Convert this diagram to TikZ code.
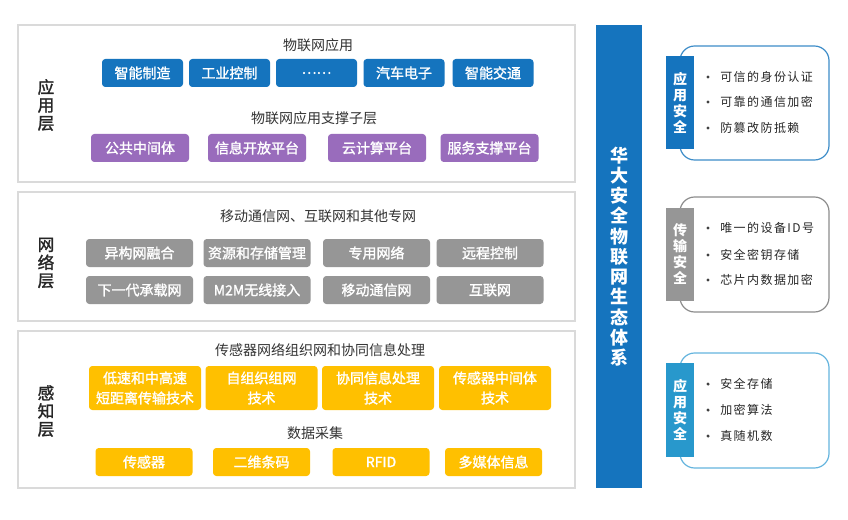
\documentclass[tikz,border=0pt]{standalone}
\usepackage{fontspec}
\setmainfont{Noto Sans CJK SC}
\newfontfamily\cjksp{Noto Sans CJK SC}[LetterSpace=12]
\newfontfamily\cjkmed{Noto Sans CJK SC}[FakeBold=1.5]
\definecolor{mblue}{RGB}{21,116,190}
\definecolor{mpurple}{RGB}{153,108,188}
\definecolor{mgray}{RGB}{150,150,150}
\definecolor{myellow}{RGB}{255,192,0}
\definecolor{pborder}{RGB}{218,218,218}
\definecolor{lblue}{RGB}{40,152,204}
\definecolor{bblue}{RGB}{60,140,200}
\definecolor{bgray}{RGB}{140,140,140}
\definecolor{blblue}{RGB}{100,180,222}
\definecolor{ttext}{RGB}{51,51,51}
\begin{document}
\begin{tikzpicture}[x=0.75pt,y=-0.75pt,
  panel/.style={draw=pborder,line width=1.1pt,fill=white},
  boxbase/.style={rounded corners=2.5pt,inner sep=0pt,text=white,align=center,
     font=\cjkmed\fontsize{10.5}{15}\selectfont},
  appbox/.style={boxbase,fill=mblue,minimum width=60.75pt,minimum height=21pt},
  supbox/.style={boxbase,fill=mpurple,minimum width=73.5pt,minimum height=21pt},
  netbox/.style={boxbase,fill=mgray,minimum width=80.25pt,minimum height=21pt},
  senbox/.style={boxbase,fill=myellow,minimum width=84pt,minimum height=33pt},
  datbox/.style={boxbase,fill=myellow,minimum width=72.75pt,minimum height=21pt},
  ttl/.style={text=ttext,inner sep=0pt,font=\fontsize{10.5}{12}\selectfont},
  layerlbl/.style={text=black!85,inner sep=0pt,align=center,font=\cjkmed\fontsize{12.5}{13.5}\selectfont},
  bartext/.style={text=white,inner sep=0pt,align=center,font=\fontsize{13.5}{15.2}\selectfont\bfseries},
  sidebox/.style={rounded corners=11pt,line width=0.9pt,fill=white},
  sidebar/.style={inner sep=0pt,text=white,align=center,minimum width=21pt,minimum height=70pt,
     font=\fontsize{10.5}{12}\selectfont\bfseries},
  item/.style={anchor=west,inner sep=0pt,text=black!85,font=\cjksp\fontsize{9}{10}\selectfont},
  dot/.style={circle,fill=black!75,inner sep=0pt,minimum size=2.6pt}
]
\useasboundingbox (0,0) rectangle (848,520);
% panels
\draw[panel] (18,25) rectangle (575,182);
\draw[panel] (18,192) rectangle (575,321);
\draw[panel] (18,331) rectangle (575,488);
% layer labels
\node[layerlbl] (lapp) at (46,105) {应\\用\\层};
\node[layerlbl] (lnet) at (46,263) {网\\络\\层};
\node[layerlbl] (lsen) at (46,411) {感\\知\\层};
% application layer
\node[ttl] (t1) at (318,45) {物联网应用};
\node[appbox] (a1) at (142.5,73) {智能制造};
\node[appbox] (a2) at (229.5,73) {工业控制};
\node[appbox] (a3) at (316.5,73) {……};
\node[appbox] (a4) at (404,73) {汽车电子};
\node[appbox] (a5) at (493,73) {智能交通};
\node[ttl] (t2) at (314,118) {物联网应用支撑子层};
\node[supbox] (s1) at (140,148) {公共中间体};
\node[supbox] (s2) at (257,148) {信息开放平台};
\node[supbox] (s3) at (377,148) {云计算平台};
\node[supbox] (s4) at (489.5,148) {服务支撑平台};
% network layer
\node[ttl] (t3) at (318,216) {移动通信网、互联网和其他专网};
\node[netbox] (n1) at (139.5,253) {异构网融合};
\node[netbox] (n2) at (257,253) {资源和存储管理};
\node[netbox] (n3) at (376.5,253) {专用网络};
\node[netbox] (n4) at (490,253) {远程控制};
\node[netbox] (n5) at (139.5,290) {下一代承载网};
\node[netbox] (n6) at (257,290) {M2M无线接入};
\node[netbox] (n7) at (376.5,290) {移动通信网};
\node[netbox] (n8) at (490,290) {互联网};
% perception layer
\node[ttl] (t4) at (320,350) {传感器网络组织网和协同信息处理};
\node[senbox] (p1) at (145,388) {低速和中高速\\短距离传输技术};
\node[senbox] (p2) at (261.5,388) {自组织组网\\技术};
\node[senbox] (p3) at (378,388) {协同信息处理\\技术};
\node[senbox] (p4) at (495,388) {传感器中间体\\技术};
\node[ttl] (t5) at (315,433) {数据采集};
\node[datbox] (d1) at (144,462) {传感器};
\node[datbox] (d2) at (261.5,462) {二维条码};
\node[datbox] (d3) at (381,462) {RFID};
\node[datbox] (d4) at (493.5,462) {多媒体信息};
% vertical bar
\fill[mblue] (596,25) rectangle (642,488);
\node[bartext] (bar) at (619,256.5) {华\\大\\安\\全\\物\\联\\网\\生\\态\\体\\系};
% side boxes
\draw[sidebox,draw=bblue] (680,46) rectangle (829,160);
\node[sidebar,fill=mblue,minimum height=69.75pt] (sb1) at (680,102.5) {应\\用\\安\\全};
\node[dot] (b11) at (708,77) {};
\node[item] (i11) at (720,77) {可信的身份认证};
\node[dot] (b12) at (708,102) {};
\node[item] (i12) at (720,102) {可靠的通信加密};
\node[dot] (b13) at (708,128) {};
\node[item] (i13) at (720,128) {防篡改防抵赖};

\draw[sidebox,draw=bgray] (680,197) rectangle (829,312);
\node[sidebar,fill=mgray,minimum height=69.75pt] (sb2) at (680,254.5) {传\\输\\安\\全};
\node[dot] (b21) at (708,228) {};
\node[item] (i21) at (720,228) {唯一的设备ID号};
\node[dot] (b22) at (708,255) {};
\node[item] (i22) at (720,255) {安全密钥存储};
\node[dot] (b23) at (708,280) {};
\node[item] (i23) at (720,280) {芯片内数据加密};

\draw[sidebox,draw=blblue] (680,353) rectangle (829,468);
\node[sidebar,fill=lblue,minimum height=70.5pt] (sb3) at (680,410) {应\\用\\安\\全};
\node[dot] (b31) at (708,384) {};
\node[item] (i31) at (720,384) {安全存储};
\node[dot] (b32) at (708,410) {};
\node[item] (i32) at (720,410) {加密算法};
\node[dot] (b33) at (708,436) {};
\node[item] (i33) at (720,436) {真随机数};
\end{tikzpicture}
\end{document}
